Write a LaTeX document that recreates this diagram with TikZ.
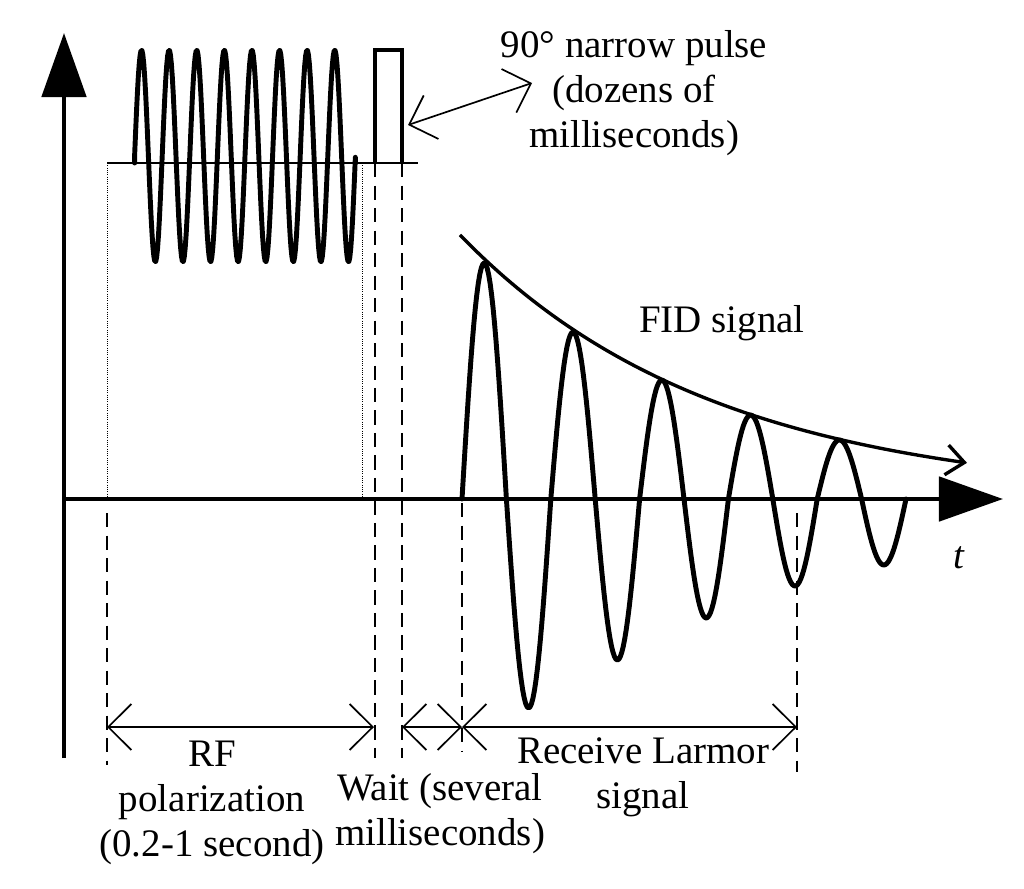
\documentclass[tikz,border=0pt]{standalone}
\usepackage{fontspec}
\setmainfont{Liberation Serif}
\usetikzlibrary{arrows.meta}
\tikzstyle{axisline} = [line width=3.5pt, -{Triangle[length=1.6cm, width=1.1cm]}]
\tikzstyle{wave} = [line width=3.5pt, line join=round, line cap=round]
\tikzstyle{pulse} = [line width=2.8pt, line join=miter]
\tikzstyle{envelope} = [line width=2.4pt, -{Straight Barb[length=0.45cm, width=0.75cm]}]
\tikzstyle{dim} = [line width=1.2pt, {Straight Barb[length=0.58cm, width=1.15cm]}-{Straight Barb[length=0.58cm, width=1.15cm]}]
\tikzstyle{guide} = [line width=1pt, dash pattern=on 10pt off 6pt]
\tikzstyle{dots} = [line width=0.6pt, densely dotted]
\tikzstyle{lbl} = [font=\fontsize{27.7}{32}\selectfont, align=center, inner sep=0pt]

\begin{document}
\begin{tikzpicture}[x=0.025cm, y=-0.025cm]
            \useasboundingbox (0,0) rectangle (1024,888);

            \coordinate (origin) at (64,499);
            \coordinate (ytop) at (64,33);
            \coordinate (ybot) at (64,758);
            \coordinate (xend) at (1003,499);
            \coordinate (rf1) at (107,727);
            \coordinate (rf2) at (374,727);
            \coordinate (wait1) at (402,727);
            \coordinate (rx1) at (462,727);
            \coordinate (rx2) at (797,727);
            \coordinate (pulsetip) at (408,125);
            \coordinate (pulsetail) at (532,83);

            \node (pulselabel) [lbl] at (634,93) {90° narrow pulse\\(dozens of\\milliseconds)};
            \node (fidlabel) [lbl] at (722,323) {FID signal};
            \node (tlabel) [lbl, anchor=base] at (959,568) {\textit{t}};
            \node (rflabel) [lbl] at (212,803) {RF\\polarization\\(0.2-1 second)};
            \node (waitlabel) [lbl] at (440,814) {Wait (several\\milliseconds)};
            \node (rxlabel) [lbl] at (643,777) {Receive Larmor\\signal};

            \draw [line width=1.4pt] (107,163) -- (418,163);
            \draw [dots] (107,163) -- (107,499);
            \draw [dots] (362,163) -- (362,499);
            \draw [guide] (107,513) -- (107,765);
            \draw [guide] (375,163) -- (375,758);
            \draw [guide] (402,163) -- (402,758);
            \draw [guide] (462,503) -- (462,752);
            \draw [guide] (797,513) -- (797,772);

            \draw [wave] (134.6,163) -- plot[domain=0:8, samples=241] ({134.6+27.6*\x}, {156-106*sin(360*\x)}) -- (355.4,163);
            \draw [pulse] (375,163) |- (402,50) -- (402,163);

            \foreach \k/\a in {0/236,1/-209,2/167,3/-161,4/119,5/-119,6/84,7/-87,8/59,9/-66}
                \draw [wave] plot[domain=0:180, samples=31] ({462+44.4*\k+44.4*\x/180}, {499-\a*sin(\x)});
            \draw [envelope] plot[domain=460:967, samples=80] (\x, {499-262*exp(-(\x-462)/255)});

            \draw [axisline] (ybot) -- (ytop);
            \draw [axisline] (origin) -- (xend);

            \draw [dim] (pulsetip) -- (pulsetail);
            \draw [dim] (rf1) -- (rf2);
            \draw [dim] (wait1) -- (rx1);
            \draw [dim] (rx1) -- (rx2);
\end{tikzpicture}
\end{document}
